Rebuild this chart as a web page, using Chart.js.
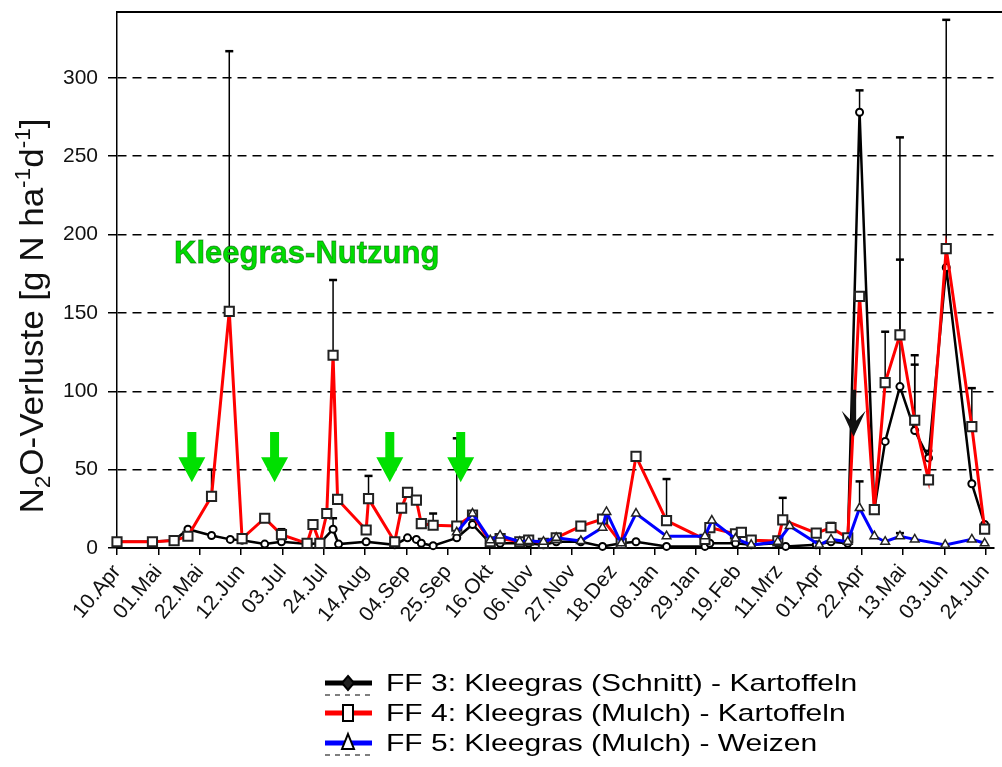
<!DOCTYPE html>
<html>
<head>
<meta charset="utf-8">
<script src="https://cdn.jsdelivr.net/npm/chart.js@4.4.0/dist/chart.umd.min.js"></script>
<style>
  html, body { margin: 0; padding: 0; background: #fff; }
  #wrap { width: 1002px; height: 767px; position: relative; }
</style>
</head>
<body>
<div id="wrap"><canvas id="myChart"></canvas></div>
<script>
// x axis: days since 10.Apr, one tick every 21 days
let xLabels = ["10.Apr", "01.Mai", "22.Mai", "12.Jun", "03.Jul", "24.Jul", "14.Aug", "04.Sep",
  "25.Sep", "16.Okt", "06.Nov", "27.Nov", "18.Dez", "08.Jan", "29.Jan", "19.Feb", "11.Mrz",
  "01.Apr", "22.Apr", "13.Mai", "03.Jun", "24.Jun"];

// FF 3: Kleegras (Schnitt) - Kartoffeln
let ff3Days = [0, 18, 29, 36, 48, 57.5, 63.5, 75, 83.5, 97, 103, 109.7, 112.5, 126.5, 141, 147.5, 152,
  154.5, 160.5, 172.5, 180.5, 189.5, 194.5, 204.5, 209, 216.5, 223, 235.5, 246.5, 256, 263.5, 279,
  298.5, 301, 314, 322, 335.5, 339.5, 355, 362.5, 371, 377, 384.5, 390, 397.5, 405, 412, 421, 434, 440.5];
let ff3Values = [4, 4, 5, 12, 8, 5.5, 5, 2.5, 4, 2.5, 3, 12, 2.5, 4, 2, 6.5, 5.5,
  3, 1.5, 6.5, 15, 3, 3, 3, 3, 2, 4, 4, 1, 3, 4, 1,
  1, 3, 3, 2, 3, 1, 2, 4, 3, 278, 24.5, 68, 103, 75, 57.5, 179, 41, 15];
let ff3Err = [null, null, null, null, null, null, null, null, null, null,
  null, 19, null, null, null, null, null, null, null, null,
  20, null, null, null, null, null, null, null, null, null,
  null, null, null, null, null, null, null, null, null, null,
  null, 292, null, null, 184, 117, 62, null, null, null];

// FF 4: Kleegras (Mulch) - Kartoffeln
let ff4Days = [0, 18, 29, 36, 48, 57, 63.5, 75, 83.5, 96.5, 99.5, 103, 106.5, 109.7, 112, 126.5, 127.7,
  141, 144.5, 147.5, 152, 154.5, 160.5, 172.5, 180.5, 189.5, 194.5, 204.5, 209, 216.5, 223, 235.5,
  246.5, 256, 263.5, 279, 298.5, 301, 314, 317, 322, 335.5, 338, 355, 362.5, 371, 377, 384.5, 390,
  397.5, 405, 412, 421, 434, 440.5];
let ff4Values = [4, 4, 4.7, 7.5, 33, 151, 6, 19, 8.5, 3, 15, 3, 22, 123, 31, 11.5, 31.5,
  4, 25.5, 35.5, 30.5, 15.5, 14.5, 14, 21, 4, 6, 4, 5, 3, 6.5, 14,
  18.5, 3, 58.5, 17.5, 5.5, 13, 9, 10, 5, 4.5, 18, 9.5, 13, 6.5, 160.5, 24.5, 105.5,
  136, 81.5, 43.5, 191, 77.5, 12];
let ff4Err = [null, null, null, null, 50, 317, null, null, 12, null,
  null, null, null, 171, null, null, 46, null, null, null,
  null, null, 22, 70, null, null, null, null, null, null,
  null, null, null, null, null, 44, null, null, null, null,
  null, null, 32, null, 16, null, null, null, 138, 262,
  123, null, 337, 102, null];

// FF 5: Kleegras (Mulch) - Weizen
let ff5Days = [172.5, 180.5, 189.5, 194.5, 204.5, 209, 216.5, 223, 235.5, 246.5, 248.5, 256, 263.5,
  279, 298.5, 302, 314, 322, 335.5, 341.5, 356.5, 362.5, 371, 377, 384.5, 390, 397.5, 405, 420.5,
  434, 440.5];
let ff5Values = [10, 22, 5, 8, 4, 4.5, 4, 6.5, 4.5, 13, 23, 3, 22,
  7.5, 7.5, 17.5, 6, 2, 4, 14, 2, 5.5, 4, 25.5, 7.5, 4, 7.5, 5.5, 2,
  5.5, 3];
let ff5Err = [null, null, null, null, null, null, null, null, null, null, null, null, null,
  null, null, null, null, null, null, null, null, null, null, 42.5, null, null, 9.5, null, null,
  null, null];

// Kleegras-Nutzung (green arrows) and the black arrow in spring
let cutDays = [38, 80, 138.5, 174.5];
let blackArrowDay = 374;

Chart.defaults.font.family = "Arial, 'Liberation Sans', sans-serif";

function toPoints(days, values) {
  return days.map((d, i) => ({ x: d, y: values[i] }));
}

let chart = document.getElementById("myChart");

let errorBars = {
  id: "errorBars",
  beforeDatasetsDraw(c) {
    let ctx = c.ctx;
    let sx = c.scales.x, sy = c.scales.y;
    ctx.save();
    ctx.strokeStyle = "#000";
    c.data.datasets.forEach((ds) => {
      ds.data.forEach((p, i) => {
        let top = ds.err[i];
        if (top == null) return;
        let px = sx.getPixelForValue(p.x);
        let py = sy.getPixelForValue(p.y);
        let pt = sy.getPixelForValue(top);
        ctx.lineWidth = 1.5;
        ctx.beginPath();
        ctx.moveTo(px, py);
        ctx.lineTo(px, pt);
        ctx.stroke();
        ctx.lineWidth = 2.5;
        ctx.beginPath();
        ctx.moveTo(px - 4, pt);
        ctx.lineTo(px + 4, pt);
        ctx.stroke();
      });
    });
    ctx.restore();
  },
};

function downArrow(ctx, x, yTop, yTip, shaftW, headW, headH, color, barbed) {
  ctx.save();
  ctx.fillStyle = color;
  ctx.beginPath();
  let yHead = yTip - headH;
  ctx.moveTo(x - shaftW / 2, yTop);
  ctx.lineTo(x + shaftW / 2, yTop);
  ctx.lineTo(x + shaftW / 2, yHead + (barbed ? 6 : 0));
  ctx.lineTo(x + headW / 2, yHead - (barbed ? 4 : 0));
  ctx.lineTo(x, yTip);
  ctx.lineTo(x - headW / 2, yHead - (barbed ? 4 : 0));
  ctx.lineTo(x - shaftW / 2, yHead + (barbed ? 6 : 0));
  ctx.closePath();
  ctx.fill();
  ctx.restore();
}

let notes = {
  id: "notes",
  afterDatasetsDraw(c) {
    let ctx = c.ctx;
    let sx = c.scales.x, sy = c.scales.y;
    cutDays.forEach((d) => {
      downArrow(ctx, sx.getPixelForValue(d), sy.getPixelForValue(74), sy.getPixelForValue(42), 9, 27, 25, "#00e000", false);
    });
    downArrow(ctx, sx.getPixelForValue(blackArrowDay), sy.getPixelForValue(101), sy.getPixelForValue(71), 5, 24, 22, "#111", true);

    ctx.save();
    ctx.font = "bold 31px Arial";
    ctx.textBaseline = "alphabetic";
    ctx.fillStyle = "#00dd00";
    ctx.strokeStyle = "rgba(0,90,0,0.6)";
    ctx.lineWidth = 0.8;
    let tx = sx.getPixelForValue(29), ty = sy.getPixelForValue(182);
    ctx.fillText("Kleegras-Nutzung", tx, ty);
    ctx.strokeText("Kleegras-Nutzung", tx, ty);
    ctx.restore();

    // top frame line
    let a = c.chartArea;
    ctx.save();
    ctx.strokeStyle = "#000";
    ctx.lineWidth = 2;
    ctx.beginPath();
    ctx.moveTo(a.left, a.top);
    ctx.lineTo(c.width, a.top);
    ctx.stroke();
    ctx.restore();
  },
};

let yTitle = {
  id: "yTitle",
  afterDraw(c) {
    let ctx = c.ctx;
    let parts = [["N", 0], ["2", 1], ["O-Verluste [g N ha", 0], ["-1", -1], ["d", 0], ["-1", -1], ["]", 0]];
    let big = 34, small = 22;
    ctx.save();
    let total = 0;
    parts.forEach((p) => {
      ctx.font = (p[1] ? small : big) + "px Arial";
      total += ctx.measureText(p[0]).width;
    });
    ctx.translate(43, 316);
    ctx.rotate(-Math.PI / 2);
    ctx.scale(395 / total, 1);
    ctx.fillStyle = "#111";
    ctx.textBaseline = "alphabetic";
    let pos = -total / 2;
    parts.forEach((p) => {
      ctx.font = (p[1] ? small : big) + "px Arial";
      let dy = p[1] === 1 ? 7 : p[1] === -1 ? -13 : 0;
      ctx.fillText(p[0], pos, dy);
      pos += ctx.measureText(p[0]).width;
    });
    ctx.restore();
  },
};

let legendBox = {
  id: "legendBox",
  afterDraw(c) {
    let ctx = c.ctx;
    let rows = [683, 713, 743];
    let x0 = 325, x1 = 372, mx = 348;
    c.data.datasets.forEach((ds, i) => {
      let y = rows[i];
      ctx.save();
      ctx.strokeStyle = ds.borderColor;
      ctx.lineWidth = 5;
      ctx.beginPath();
      ctx.moveTo(x0, y);
      ctx.lineTo(x1, y);
      ctx.stroke();
      if (ds.legendDash) {
        ctx.strokeStyle = "#000";
        ctx.lineWidth = 1.2;
        ctx.setLineDash([5, 5]);
        ctx.beginPath();
        ctx.moveTo(x0, y + 12);
        ctx.lineTo(x1, y + 12);
        ctx.stroke();
        ctx.setLineDash([]);
      }
      ctx.fillStyle = "#fff";
      ctx.strokeStyle = "#000";
      ctx.lineWidth = 2;
      ctx.beginPath();
      if (ds.pointStyle === "circle") {
        ctx.moveTo(mx, y - 7);
        ctx.lineTo(mx + 6, y);
        ctx.lineTo(mx, y + 7);
        ctx.lineTo(mx - 6, y);
        ctx.closePath();
        ctx.fillStyle = "#222";
      } else if (ds.pointStyle === "rect") {
        ctx.rect(mx - 5, y - 8, 10, 16);
      } else {
        ctx.moveTo(mx, y - 9);
        ctx.lineTo(mx + 6, y + 6);
        ctx.lineTo(mx - 6, y + 6);
        ctx.closePath();
      }
      ctx.fill();
      ctx.stroke();
      ctx.fillStyle = "#000";
      ctx.font = "24px Arial";
      ctx.textBaseline = "middle";
      ctx.translate(386, y);
      ctx.scale(1.25, 1);
      ctx.fillText(ds.label, 0, 1);
      ctx.restore();
    });
  },
};

new Chart(chart, {
  type: "line",
  data: {
    datasets: [
      {
        label: "FF 3: Kleegras (Schnitt) - Kartoffeln",
        data: toPoints(ff3Days, ff3Values),
        err: ff3Err,
        borderColor: "#000",
        borderWidth: 2.5,
        pointStyle: "circle",
        pointRadius: 3.5,
        pointBackgroundColor: "#fff",
        pointBorderColor: "#000",
        pointBorderWidth: 2,
        legendDash: true,
        order: 3,
        clip: false,
      },
      {
        label: "FF 4: Kleegras (Mulch) - Kartoffeln",
        data: toPoints(ff4Days, ff4Values),
        err: ff4Err,
        borderColor: "#ff0000",
        borderWidth: 3,
        pointStyle: "rect",
        pointRadius: 6.5,
        pointBackgroundColor: "#fff",
        pointBorderColor: "#222",
        pointBorderWidth: 2,
        order: 2,
        clip: false,
      },
      {
        label: "FF 5: Kleegras (Mulch) - Weizen",
        data: toPoints(ff5Days, ff5Values),
        err: ff5Err,
        borderColor: "#0000ff",
        borderWidth: 3,
        pointStyle: "triangle",
        pointRadius: 5,
        pointBackgroundColor: "#fff",
        pointBorderColor: "#222",
        pointBorderWidth: 1.5,
        legendDash: true,
        order: 1,
        clip: false,
      },
    ],
  },
  options: {
    responsive: true,
    maintainAspectRatio: false,
    animation: false,
    layout: { padding: { top: 12, right: 2, bottom: 119, left: 0 } },
    plugins: { legend: { display: false }, tooltip: { enabled: false } },
    elements: { line: { tension: 0 } },
    scales: {
      x: {
        type: "linear",
        min: 0,
        max: 445,
        afterFit(s) {
          s.height = 100;
          s.paddingLeft = 0;
          s.paddingRight = 0;
        },
        grid: { drawOnChartArea: false, color: "#000", tickLength: 7, lineWidth: 1.5 },
        border: { color: "#000", width: 2 },
        ticks: {
          stepSize: 21,
          autoSkip: false,
          includeBounds: false,
          minRotation: 50,
          maxRotation: 50,
          padding: 5,
          color: "#111",
          font: { size: 21 },
          callback: (v) => xLabels[Math.round(v / 21)],
        },
      },
      y: {
        min: 0,
        max: 342,
        afterFit(s) {
          s.width = 117;
          s.paddingTop = 0;
          s.paddingBottom = 0;
        },
        grid: { color: "#000", lineWidth: 1.5, tickLength: 9 },
        border: { color: "#000", width: 1.5, dash: [9, 6] },
        ticks: { stepSize: 50, includeBounds: false, padding: 10, color: "#111", font: { size: 21 } },
      },
    },
  },
  plugins: [errorBars, notes, yTitle, legendBox],
});
</script>
</body>
</html>
